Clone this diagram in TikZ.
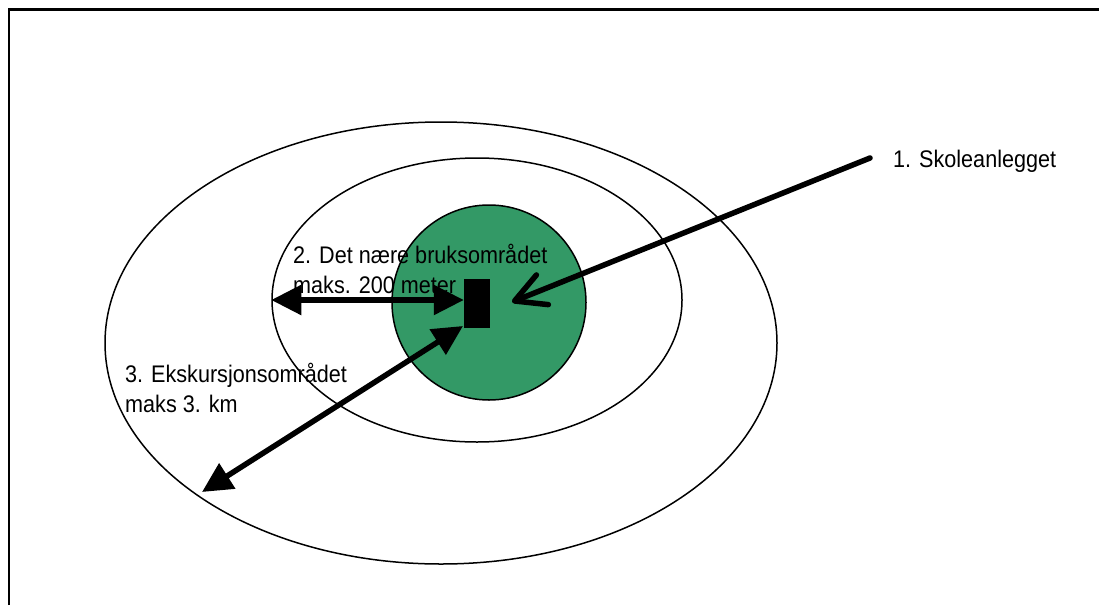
\documentclass[tikz,border=0pt]{standalone}
\usepackage{fontspec}
\setmainfont{Liberation Sans}[FakeStretch=0.9]
\usetikzlibrary{arrows.meta,shapes.geometric}
\definecolor{zonegreen}{RGB}{51,153,102}
\begin{document}
\begin{tikzpicture}[x=1pt,y=-1pt,
  ring/.style={draw=black,line width=1.5pt,ellipse,inner sep=0pt},
  lbl/.style={anchor=base west,inner sep=0pt,font=\fontsize{24}{30}\selectfont},
  fat/.style={line width=5.5pt},
  dbl/.style={fat,{Triangle[length=30pt,width=29pt]}-{Triangle[length=30pt,width=29pt]}},
  barb/.style={fat,line cap=round,-{Straight Barb[length=30pt,width=32pt,round]}}]
\useasboundingbox (0,0) rectangle (1099,605);
\fill[white] (0,0) rectangle (1099,605);
\draw[line width=2.2pt] (9,605) -- (9,9.5) -- (1099,9.5);
% rings
\node[ring,minimum width=672pt,minimum height=442pt] (outer) at (441,343) {};
\node[ring,minimum width=410pt,minimum height=284pt] (mid) at (477,300) {};
\node[ring,fill=zonegreen,minimum width=194pt,minimum height=195pt] (core) at (489,302.5) {};
% school building
\node[fill=black,draw=none,minimum width=26pt,minimum height=49pt,inner sep=0pt] (school) at (477,303.5) {};
% coordinates
\coordinate (lblend) at (870,158);
\coordinate (tip1) at (512,302);
\coordinate (farpt) at (202,492);
\coordinate (nearpt) at (463,326);
% arrows
\draw[barb] (lblend) -- (tip1);
\draw[dbl] (mid.west |- 0,300) -- (school.west |- 0,300);
\draw[dbl] (farpt) -- (nearpt);
% labels
\node[lbl] (t1) at (893,167) {1. Skoleanlegget};
\node[lbl] (t2a) at (293,263) {2. Det nære bruksområdet};
\node[lbl] (t2b) at (293,293) {maks. 200 meter};
\node[lbl] (t3a) at (125,382) {3. Ekskursjonsområdet};
\node[lbl] (t3b) at (125,412) {maks 3. km};
\end{tikzpicture}
\end{document}
